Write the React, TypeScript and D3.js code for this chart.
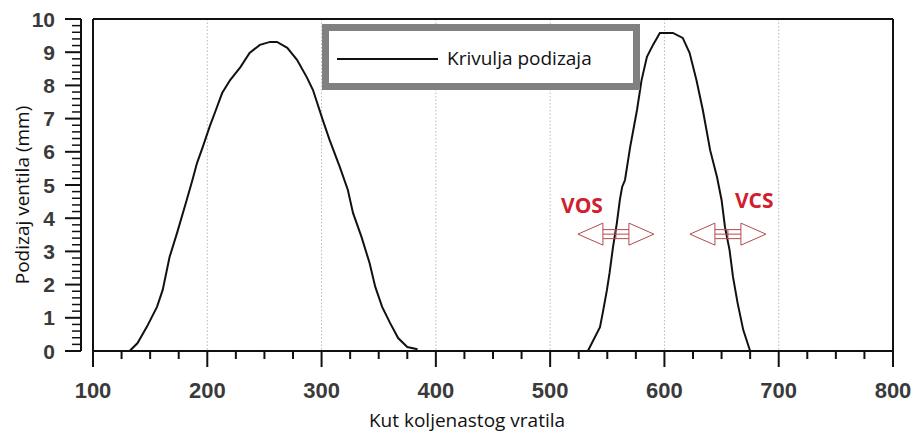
import React from "react";
import * as d3 from "d3";

const xTicks = [100, 200, 300, 400, 500, 600, 700, 800];
const yTicks = [0, 1, 2, 3, 4, 5, 6, 7, 8, 9, 10];
const gridX = [200, 300, 400, 500, 600, 700];

const lobe1X = [132, 139, 147, 156, 161, 167, 173.5, 182, 187, 191, 196, 202, 208.5, 213, 220, 229, 237, 246, 255, 261, 270, 278.5, 287, 292.5, 301, 307, 316, 323, 327.5, 335, 342, 347, 353, 360, 367, 375, 384];
const lobe1Y = [0, 0.24, 0.72, 1.33, 1.84, 2.83, 3.55, 4.55, 5.15, 5.66, 6.14, 6.75, 7.35, 7.77, 8.16, 8.55, 8.98, 9.22, 9.31, 9.31, 9.13, 8.77, 8.25, 7.86, 6.96, 6.36, 5.54, 4.85, 4.16, 3.43, 2.65, 1.93, 1.33, 0.84, 0.39, 0.12, 0.05];

const lobe2X = [533, 543.6, 546, 549.7, 552, 555, 558.4, 561, 563, 565.5, 570, 576, 580, 584.7, 590, 596, 607.4, 616, 622, 628, 633.6, 640, 646, 650, 653, 657, 660, 664, 669, 675];
const lobe2Y = [0, 0.72, 1.14, 1.84, 2.35, 3.13, 3.86, 4.55, 4.94, 5.15, 6.14, 7.26, 8.16, 8.86, 9.22, 9.58, 9.58, 9.43, 8.98, 8.16, 7.26, 6.05, 5.24, 4.55, 3.73, 3.04, 2.23, 1.45, 0.63, 0];

const legendLabel = "Krivulja podizaja";
const xTitle = "Kut koljenastog vratila";
const yTitle = "Podizaj ventila (mm)";

// annotation arrows: tips in data x, level in data y
const arrowNames = ["VOS", "VCS"];
const arrowLeft = [524.3, 622.3];
const arrowRight = [590.8, 688.8];
const arrowLevel = [3.52, 3.52];
const arrowLabelX = [509.5, 561.7 + 100];
const arrowLabelY = [4.4, 4.56];

const W = 916, H = 436;
const x = d3.scaleLinear().domain([100, 800]).range([93, 893]);
const y = d3.scaleLinear().domain([0, 10]).range([351, 19]);

function DoubleArrow({ x0, x1, yy }: { x0: number; x1: number; yy: number }) {
  const L = x(x0), R = x(x1), c = y(yy);
  const head = 25, hh = 11, sh = 4.5;
  const mid = (L + R) / 2;
  const outline: [number, number][] = [
    [L, c], [L + head, c - hh], [L + head, c - sh], [R - head, c - sh], [R - head, c - hh],
    [R, c], [R - head, c + hh], [R - head, c + sh], [L + head, c + sh], [L + head, c + hh],
  ];
  return (
    <g fill="none" stroke="#b54a4a" strokeWidth={1}>
      <path d={(d3.line()(outline) || "") + "Z"} />
      <line x1={L + head} x2={L + head} y1={c - sh} y2={c + sh} />
      <line x1={R - head} x2={R - head} y1={c - sh} y2={c + sh} />
      <line x1={mid} x2={mid} y1={c - sh} y2={c + sh} />
      <line x1={L + head} x2={R - head} y1={c} y2={c} />
    </g>
  );
}

export default function App() {
  const mk = (xs: number[], ys: number[]) =>
    d3.line<[number, number]>().x((d) => x(d[0])).y((d) => y(d[1]))(xs.map((v, i) => [v, ys[i]]) as [number, number][]) || "";
  const minorY = d3.range(0, 10.001, 0.2).filter((v) => Math.abs(v - Math.round(v)) > 0.01);
  const minorX = d3.range(100, 800.001, 25).filter((v) => v % 100 !== 0);
  const tickFont = "Liberation Sans, Arial, sans-serif";
  const textFont = "Open Sans, sans-serif";
  return (
    <svg width={W} height={H} style={{ position: "absolute", left: 0, top: 0, background: "white" }}>
      <rect width={W} height={H} fill="white" />
      {gridX.map((g) => (
        <line key={g} x1={x(g)} x2={x(g)} y1={y(10)} y2={y(0)} stroke="#b8b8b8" strokeWidth={1} strokeDasharray="1.5,2" />
      ))}
      {/* frame */}
      <line x1={x(100)} x2={x(800)} y1={y(10)} y2={y(10)} stroke="#111" strokeWidth={2} />
      <line x1={x(100)} x2={x(100)} y1={y(10)} y2={y(0)} stroke="#111" strokeWidth={2} />
      <line x1={x(800)} x2={x(800)} y1={y(10)} y2={y(0)} stroke="#111" strokeWidth={2} />
      <line x1={x(100)} x2={x(800)} y1={y(0)} y2={y(0)} stroke="#111" strokeWidth={2} />
      {/* x ticks */}
      {xTicks.map((t) => (
        <line key={t} x1={x(t)} x2={x(t)} y1={y(0)} y2={y(0) + 16} stroke="#111" strokeWidth={2} />
      ))}
      {minorX.map((t) => (
        <line key={t} x1={x(t)} x2={x(t)} y1={y(0)} y2={y(0) + 8} stroke="#111" strokeWidth={2} />
      ))}
      {xTicks.map((t) => (
        <text key={t} x={x(t)} y={390} textAnchor="middle" dominantBaseline="central" fontFamily={tickFont} fontWeight="bold" fontSize={22} fill="#3a3a3a">{t}</text>
      ))}
      {/* y axis offset */}
      <line x1={81} x2={81} y1={y(10)} y2={y(0)} stroke="#111" strokeWidth={2} />
      {yTicks.map((t) => (
        <line key={t} x1={65} x2={81} y1={y(t)} y2={y(t)} stroke="#111" strokeWidth={2} />
      ))}
      {minorY.map((t, i) => (
        <line key={i} x1={72} x2={81} y1={y(t)} y2={y(t)} stroke="#111" strokeWidth={1.5} />
      ))}
      {yTicks.map((t) => (
        <text key={t} x={55} y={y(t)} textAnchor="end" dominantBaseline="central" fontFamily={tickFont} fontWeight="bold" fontSize={21} fill="#3a3a3a">{t}</text>
      ))}
      {/* curves */}
      <path d={mk(lobe1X, lobe1Y)} fill="none" stroke="#111" strokeWidth={2} />
      <path d={mk(lobe2X, lobe2Y)} fill="none" stroke="#111" strokeWidth={2} />
      {/* legend */}
      <rect x={325.5} y={27.5} width={311} height={59} fill="white" stroke="#808080" strokeWidth={7} />
      <line x1={337} x2={438} y1={59} y2={59} stroke="#111" strokeWidth={2} />
      <text x={447} y={58} dominantBaseline="central" fontFamily={textFont} fontSize={19} fill="#111">{legendLabel}</text>
      {/* annotations */}
      {arrowNames.map((n, i) => (
        <g key={n}>
          <DoubleArrow x0={arrowLeft[i]} x1={arrowRight[i]} yy={arrowLevel[i]} />
          <text x={x(arrowLabelX[i])} y={y(arrowLabelY[i])} dominantBaseline="central" fontFamily={textFont} fontWeight="bold" fontSize={21} fill="#d0202e">{n}</text>
        </g>
      ))}
      {/* titles */}
      <text x={467} y={420} textAnchor="middle" dominantBaseline="central" fontFamily={textFont} fontSize={19} fill="#111">{xTitle}</text>
      <text transform={`translate(22,195) rotate(-90)`} textAnchor="middle" dominantBaseline="central" fontFamily={textFont} fontSize={19} fill="#111">{yTitle}</text>
    </svg>
  );
}
